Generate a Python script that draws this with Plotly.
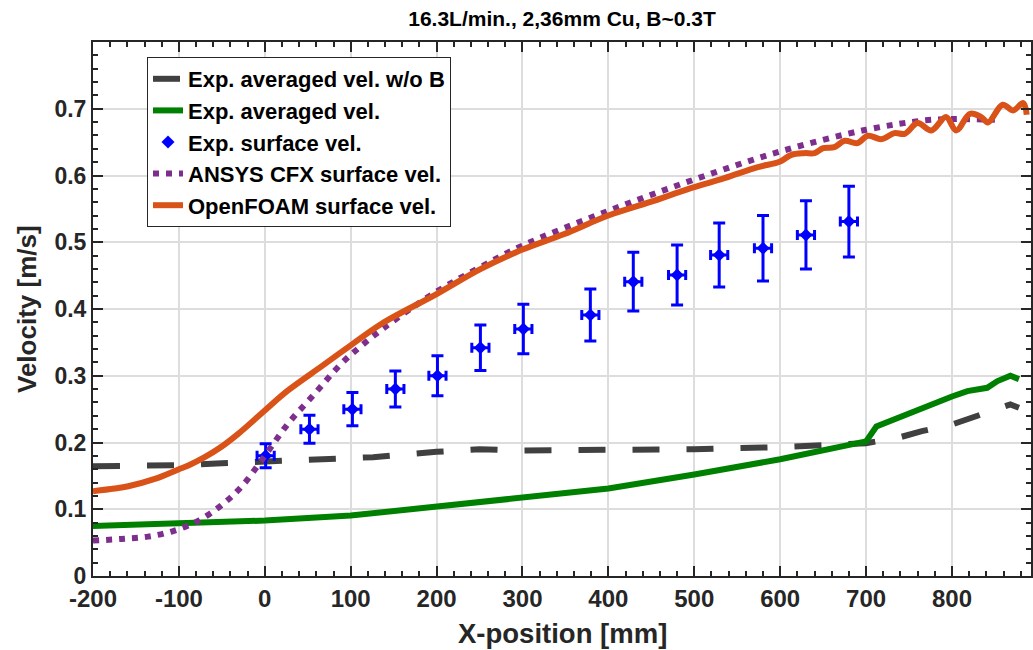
import plotly.graph_objects as go

# ---------------- data ----------------
exp_x = [1, 52, 102, 152, 201, 251, 301, 379, 429, 480, 529, 580, 630, 680]
exp_v = [0.18, 0.22, 0.25, 0.28, 0.30, 0.342, 0.37, 0.391, 0.441, 0.451, 0.481, 0.491, 0.511, 0.531]
exp_ey = [0.018, 0.021, 0.025, 0.027, 0.03, 0.034, 0.037, 0.039, 0.044, 0.045, 0.048, 0.049, 0.051, 0.053]
exp_ex = [10, 10, 10, 10, 10, 10, 10, 10, 10, 10, 10, 10, 10, 10]

noB_x = [-200, -150, -100, -50, 0, 56, 126, 200, 250, 300, 400, 500, 600, 700, 737, 765, 800, 822, 856, 868, 878]
noB_v = [0.1645, 0.165, 0.166, 0.169, 0.171, 0.173, 0.178, 0.186, 0.19, 0.188, 0.188, 0.19, 0.193, 0.199,
         0.207, 0.217, 0.227, 0.237, 0.252, 0.257, 0.252]

avg_x = [-200, -100, 0, 100, 200, 300, 400, 500, 600, 700, 712, 800, 818, 841, 853, 868, 878]
avg_v = [0.075, 0.078, 0.083, 0.0905, 0.104, 0.117, 0.131, 0.152, 0.175, 0.2017, 0.224, 0.269, 0.277,
         0.282, 0.292, 0.30, 0.295]

cfx_x = [-200, -167, -136, -105, -77, -51, -27, 0, 27, 58, 89, 113, 140, 200, 250, 300, 400, 500, 600,
         700, 768, 800, 850]
cfx_v = [0.053, 0.0555, 0.059, 0.068, 0.083, 0.1055, 0.134, 0.18, 0.228, 0.273, 0.318, 0.3455, 0.373,
         0.426, 0.462, 0.495, 0.547, 0.594, 0.636, 0.6685, 0.6825, 0.6845, 0.6835]

of_x = [-200, -175, -159, -128, -100, -89, -70, -54, -31, 0, 27, 66, 100, 136, 200, 251, 300, 348, 400,
        448, 496, 535, 574, 600, 613, 628, 640, 650, 663, 675, 690, 702, 718, 733, 745, 760, 776, 793,
        805, 821, 834, 842, 859, 871, 883, 887]
of_v = [0.127, 0.131, 0.1345, 0.1455, 0.16, 0.1655, 0.178, 0.1905, 0.213, 0.248, 0.278, 0.314, 0.3455,
        0.378, 0.4224, 0.4597, 0.489, 0.512, 0.540, 0.56, 0.581, 0.596, 0.6125, 0.621, 0.631, 0.6335,
        0.6335, 0.641, 0.6425, 0.652, 0.6485, 0.6595, 0.6545, 0.6635, 0.6625, 0.6785, 0.6675, 0.6875,
        0.6675, 0.6925, 0.6875, 0.6795, 0.706, 0.6975, 0.7085, 0.691]

x_ticks = [-200, -100, 0, 100, 200, 300, 400, 500, 600, 700, 800]
x_tick_text = ["-200", "-100", "0", "100", "200", "300", "400", "500", "600", "700", "800"]
y_ticks = [0, 0.1, 0.2, 0.3, 0.4, 0.5, 0.6, 0.7]
y_tick_text = ["0", "0.1", "0.2", "0.3", "0.4", "0.5", "0.6", "0.7"]

# ---------------- figure ----------------
FONT = "Liberation Sans, Arial, sans-serif"
AX = "#262626"
W, H = 1033, 650
ML, MR, MT, MB = 93, 2, 42, 74
PW = W - ML - MR
PH = H - MT - MB

fig = go.Figure()
fig.add_trace(go.Scatter(x=noB_x, y=noB_v, mode="lines", name="Exp. averaged vel. w/o B",
                         line=dict(color="#404040", width=6, dash="27px,27px")))
fig.add_trace(go.Scatter(x=avg_x, y=avg_v, mode="lines", name="Exp. averaged vel.",
                         line=dict(color="#008000", width=6)))
fig.add_trace(go.Scatter(x=exp_x, y=exp_v, mode="markers", name="Exp. surface vel.",
                         marker=dict(color="#0000FF", symbol="diamond", size=10),
                         error_y=dict(type="data", array=exp_ey, color="#0000FF", thickness=3, width=6),
                         error_x=dict(type="data", array=exp_ex, color="#0000FF", thickness=3, width=5)))
fig.add_trace(go.Scatter(x=cfx_x, y=cfx_v, mode="lines", name="ANSYS CFX surface vel.",
                         line=dict(color="#7E2F8E", width=6, dash="6px,7px", shape="spline")))
fig.add_trace(go.Scatter(x=of_x, y=of_v, mode="lines", name="OpenFOAM surface vel.",
                         line=dict(color="#D95319", width=6, shape="spline")))

fig.update_layout(
    width=W, height=H,
    margin=dict(l=ML, r=MR, t=MT, b=MB, autoexpand=False),
    paper_bgcolor="white", plot_bgcolor="white",
    font=dict(family=FONT, color=AX, size=20, weight="bold"),
    title=dict(text="16.3L/min., 2,36mm Cu, B~0.3T", x=(ML + PW / 2) / W, xref="container", xanchor="center",
               y=1 - 19 / H, yref="container", yanchor="middle",
               font=dict(family=FONT, size=21, color="#000000", weight="bold")),
    showlegend=True,
    legend=dict(x=(147 - ML) / PW, y=(576 - 57) / PH, xanchor="left", yanchor="top", bgcolor="white",
                bordercolor=AX, borderwidth=1,
                font=dict(family=FONT, size=22, color="#000000", weight="bold"),
                tracegroupgap=0, itemwidth=30),
    annotations=[
        dict(text="X-position [mm]", xref="paper", yref="paper", x=0.5, y=-(633 - 576) / PH,
             xanchor="center", yanchor="middle", showarrow=False,
             font=dict(family=FONT, size=27.5, color=AX, weight="bold")),
        dict(text="Velocity [m/s]", xref="paper", yref="paper", x=-(ML - 27) / PW, y=0.5,
             xanchor="center", yanchor="middle", showarrow=False, textangle=-90,
             font=dict(family=FONT, size=26, color=AX, weight="bold")),
    ],
)
fig.update_xaxes(
    range=[-200, 892], tickvals=x_ticks, ticktext=x_tick_text, showgrid=True, gridcolor="#dddddd", gridwidth=2,
    ticks="inside", ticklen=10, tickwidth=2, tickcolor=AX,
    showline=True, linewidth=2, linecolor=AX, mirror="ticks", zeroline=False, automargin=False,
    tickfont=dict(family=FONT, size=24, color=AX, weight="bold"),
    minor=dict(dtick=20, ticks="inside", ticklen=5, tickwidth=1.5, tickcolor=AX, showgrid=False),
)
fig.update_yaxes(
    range=[0, 0.8], tickvals=y_ticks, ticktext=y_tick_text, showgrid=True, gridcolor="#dddddd", gridwidth=2,
    ticks="inside", ticklen=10, tickwidth=2, tickcolor=AX,
    showline=True, linewidth=2, linecolor=AX, mirror="ticks", zeroline=False, automargin=False,
    tickfont=dict(family=FONT, size=23, color=AX, weight="bold"),
    minor=dict(dtick=0.02, ticks="inside", ticklen=5, tickwidth=1.5, tickcolor=AX, showgrid=False),
)

fig.write_html("out.html", config={"displayModeBar": False},
               post_script="document.body.style.margin='0px';document.body.style.overflow='hidden';")
